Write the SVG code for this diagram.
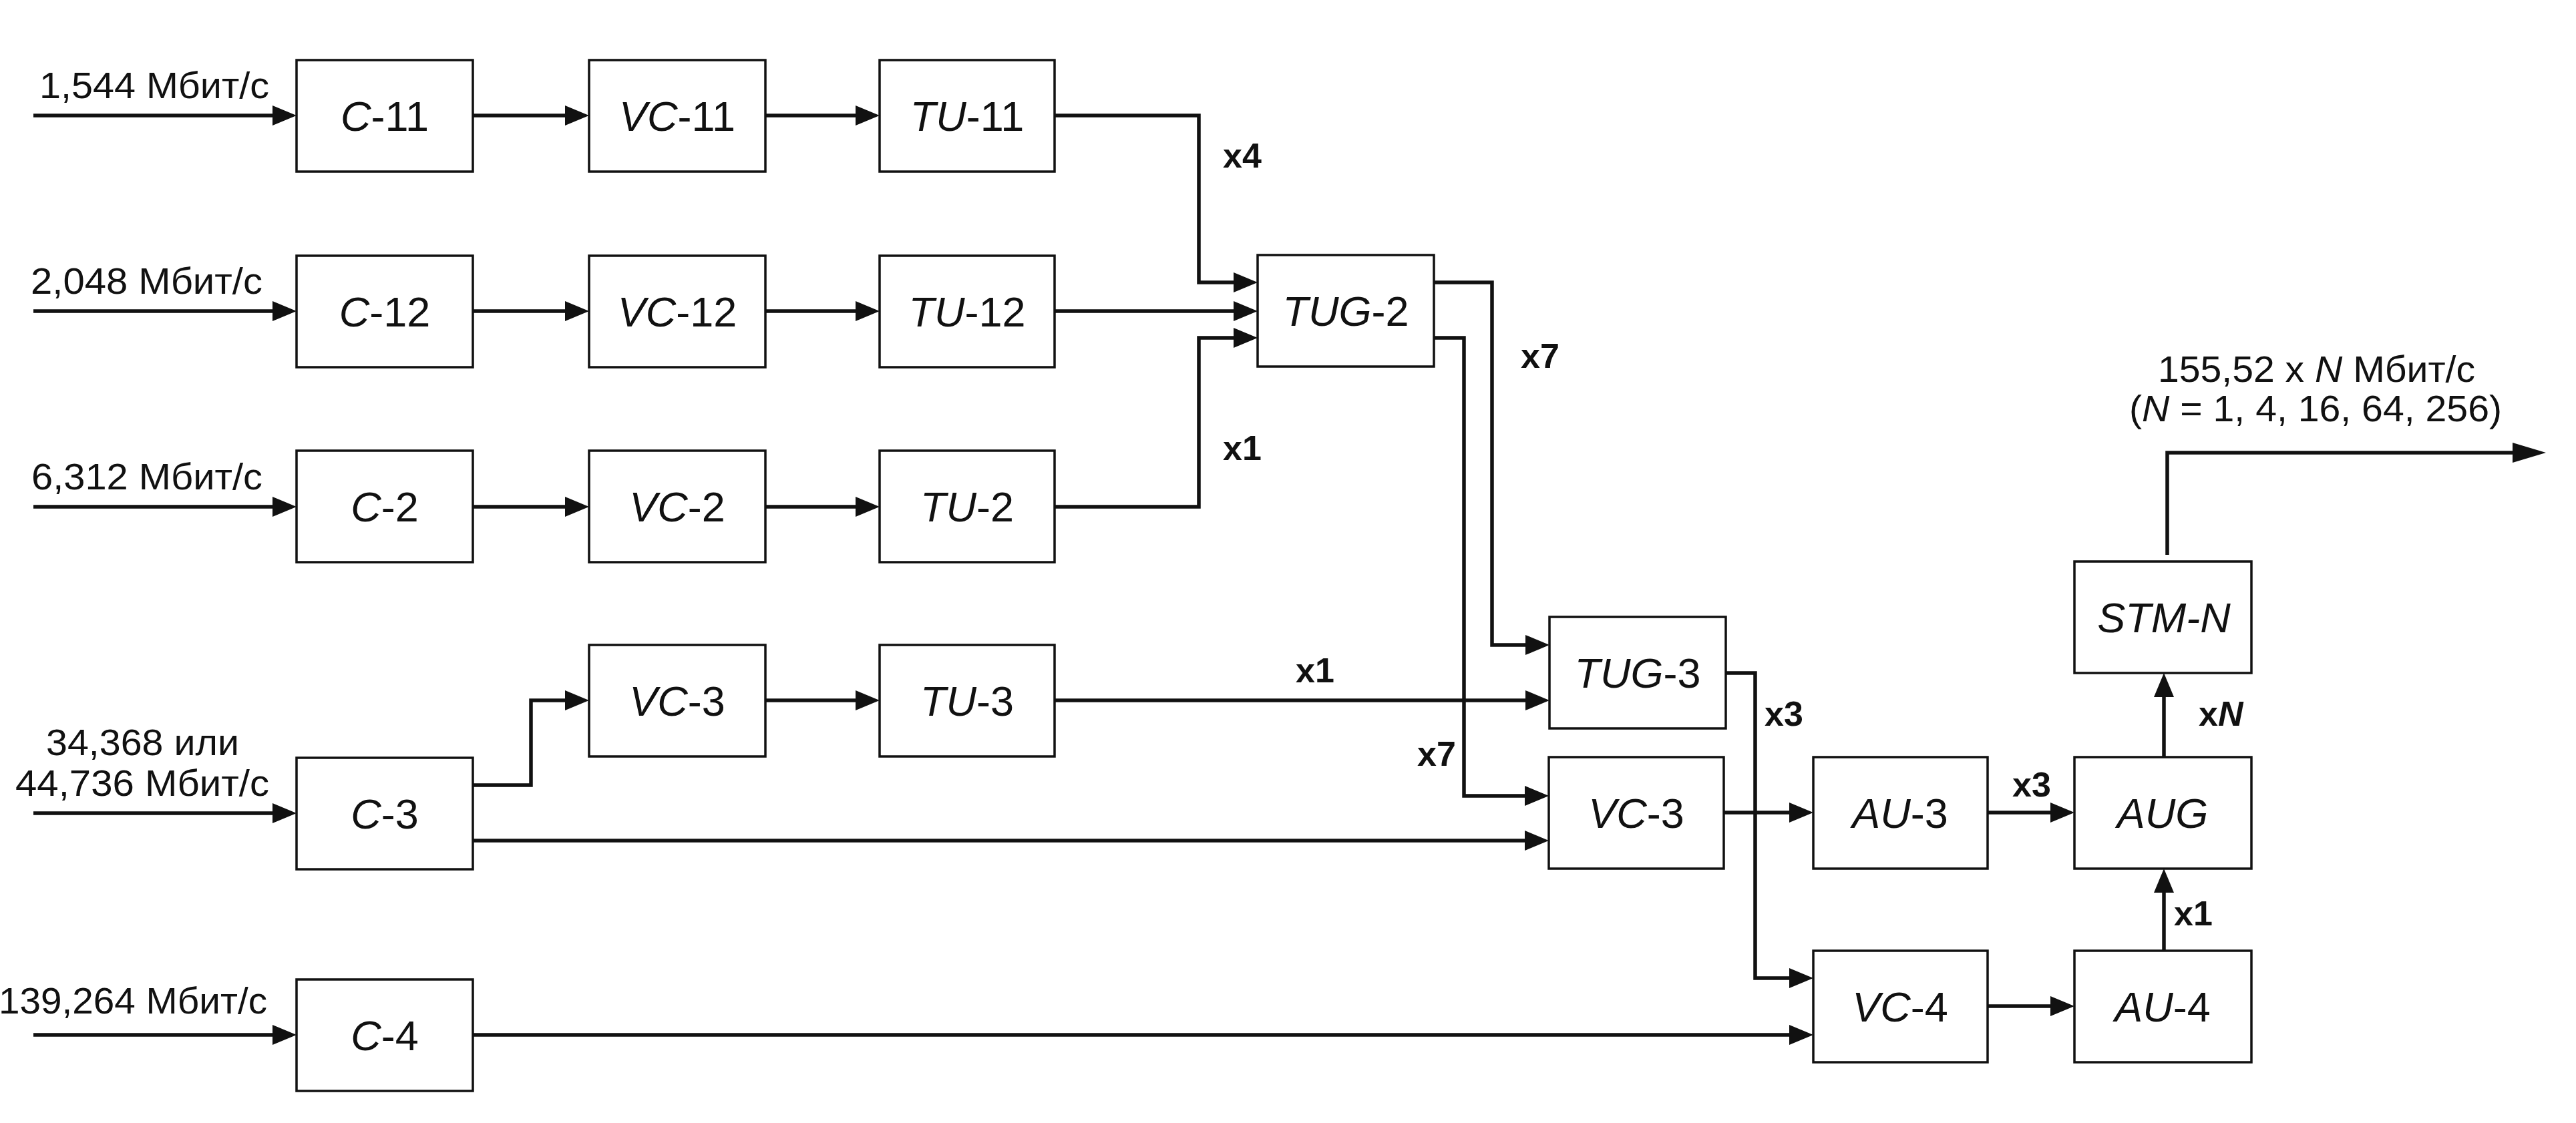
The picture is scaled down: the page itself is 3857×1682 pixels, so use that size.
<svg xmlns="http://www.w3.org/2000/svg" width="3857" height="1682" viewBox="0 0 3857 1682">
<style>
.box{fill:#fff;stroke:#111;stroke-width:3.5}
.lbl{font-family:"Liberation Sans",Arial,sans-serif;font-size:63px;fill:#111;text-anchor:middle}
.rate{font-family:"Liberation Sans",Arial,sans-serif;font-size:55px;fill:#111}
.mul{font-family:"Liberation Sans",Arial,sans-serif;font-size:52px;font-weight:bold;fill:#111}
.i{font-style:italic}
.conn{fill:none;stroke:#111;stroke-width:5.5;stroke-linejoin:miter}
</style>
<defs>
<marker id="arr" markerUnits="userSpaceOnUse" markerWidth="36" markerHeight="30" refX="26" refY="15" orient="auto">
<path d="M0,0 L36,15 L0,30 z" fill="#111"/>
</marker>
<marker id="arrBig" markerUnits="userSpaceOnUse" markerWidth="50" markerHeight="30" refX="40" refY="15" orient="auto">
<path d="M0,0 L50,15 L0,30 z" fill="#111"/>
</marker>
</defs>
<rect width="3857" height="1682" fill="#fff"/>

<g id="connectors">
<path class="conn" marker-end="url(#arr)" d="M50,173 H434"/>
<path class="conn" marker-end="url(#arr)" d="M708,173 H872"/>
<path class="conn" marker-end="url(#arr)" d="M1146,173 H1307"/>
<path class="conn" marker-end="url(#arr)" d="M1579,173 H1795 V423 H1873"/>
<path class="conn" marker-end="url(#arr)" d="M50,466 H434"/>
<path class="conn" marker-end="url(#arr)" d="M708,466 H872"/>
<path class="conn" marker-end="url(#arr)" d="M1146,466 H1307"/>
<path class="conn" marker-end="url(#arr)" d="M1579,466 H1873"/>
<path class="conn" marker-end="url(#arr)" d="M50,759 H434"/>
<path class="conn" marker-end="url(#arr)" d="M708,759 H872"/>
<path class="conn" marker-end="url(#arr)" d="M1146,759 H1307"/>
<path class="conn" marker-end="url(#arr)" d="M1579,759 H1795 V506 H1873"/>
<path class="conn" marker-end="url(#arr)" d="M2147,423 H2234 V966 H2310"/>
<path class="conn" marker-end="url(#arr)" d="M2147,506 H2192 V1192 H2309"/>
<path class="conn" marker-end="url(#arr)" d="M708,1176 H795 V1049 H872"/>
<path class="conn" marker-end="url(#arr)" d="M1146,1049 H1307"/>
<path class="conn" marker-end="url(#arr)" d="M1579,1049 H2310"/>
<path class="conn" marker-end="url(#arr)" d="M50,1218 H434"/>
<path class="conn" marker-end="url(#arr)" d="M708,1259 H2309"/>
<path class="conn" marker-end="url(#arr)" d="M2584,1008 H2628 V1465 H2705"/>
<path class="conn" marker-end="url(#arr)" d="M2581,1217 H2705"/>
<path class="conn" marker-end="url(#arr)" d="M2976,1217 H3096"/>
<path class="conn" marker-end="url(#arr)" d="M3240,1134 V1018"/>
<path class="conn" marker-end="url(#arr)" d="M3240,1424 V1311"/>
<path class="conn" marker-end="url(#arr)" d="M2976,1507 H3096"/>
<path class="conn" marker-end="url(#arr)" d="M50,1550 H434"/>
<path class="conn" marker-end="url(#arr)" d="M708,1550 H2705"/>
<path class="conn" marker-end="url(#arrBig)" d="M3245,831 V678 H3802"/>
</g>

<g id="n-c11"><rect class="box" x="444" y="90" width="264" height="167"/><text class="lbl" x="576" y="196"><tspan class="i">C</tspan>-11</text></g>
<g id="n-vc11"><rect class="box" x="882" y="90" width="264" height="167"/><text class="lbl" x="1014" y="196"><tspan class="i">VC</tspan>-11</text></g>
<g id="n-tu11"><rect class="box" x="1317" y="90" width="262" height="167"/><text class="lbl" x="1448" y="196"><tspan class="i">TU</tspan>-11</text></g>

<g id="n-c12"><rect class="box" x="444" y="383" width="264" height="167"/><text class="lbl" x="576" y="489"><tspan class="i">C</tspan>-12</text></g>
<g id="n-vc12"><rect class="box" x="882" y="383" width="264" height="167"/><text class="lbl" x="1014" y="489"><tspan class="i">VC</tspan>-12</text></g>
<g id="n-tu12"><rect class="box" x="1317" y="383" width="262" height="167"/><text class="lbl" x="1448" y="489"><tspan class="i">TU</tspan>-12</text></g>
<g id="n-tug2"><rect class="box" x="1883" y="382" width="264" height="167"/><text class="lbl" x="2015" y="488"><tspan class="i">TUG</tspan>-2</text></g>

<g id="n-c2"><rect class="box" x="444" y="675" width="264" height="167"/><text class="lbl" x="576" y="781"><tspan class="i">C</tspan>-2</text></g>
<g id="n-vc2"><rect class="box" x="882" y="675" width="264" height="167"/><text class="lbl" x="1014" y="781"><tspan class="i">VC</tspan>-2</text></g>
<g id="n-tu2"><rect class="box" x="1317" y="675" width="262" height="167"/><text class="lbl" x="1448" y="781"><tspan class="i">TU</tspan>-2</text></g>

<g id="n-vc3a"><rect class="box" x="882" y="966" width="264" height="167"/><text class="lbl" x="1014" y="1072"><tspan class="i">VC</tspan>-3</text></g>
<g id="n-tu3"><rect class="box" x="1317" y="966" width="262" height="167"/><text class="lbl" x="1448" y="1072"><tspan class="i">TU</tspan>-3</text></g>
<g id="n-tug3"><rect class="box" x="2320" y="924" width="264" height="167"/><text class="lbl" x="2452" y="1030"><tspan class="i">TUG</tspan>-3</text></g>

<g id="n-c3"><rect class="box" x="444" y="1135" width="264" height="167"/><text class="lbl" x="576" y="1241"><tspan class="i">C</tspan>-3</text></g>
<g id="n-vc3b"><rect class="box" x="2319" y="1134" width="262" height="167"/><text class="lbl" x="2450" y="1240"><tspan class="i">VC</tspan>-3</text></g>
<g id="n-au3"><rect class="box" x="2715" y="1134" width="261" height="167"/><text class="lbl" x="2845" y="1240"><tspan class="i">AU</tspan>-3</text></g>
<g id="n-aug"><rect class="box" x="3106" y="1134" width="265" height="167"/><text class="lbl i" x="3238" y="1240">AUG</text></g>
<g id="n-stm"><rect class="box" x="3106" y="841" width="265" height="167"/><text class="lbl i" x="3240" y="947" font-size="65">STM-N</text></g>

<g id="n-c4"><rect class="box" x="444" y="1467" width="264" height="167"/><text class="lbl" x="576" y="1573"><tspan class="i">C</tspan>-4</text></g>
<g id="n-vc4"><rect class="box" x="2715" y="1424" width="261" height="167"/><text class="lbl" x="2845" y="1530"><tspan class="i">VC</tspan>-4</text></g>
<g id="n-au4"><rect class="box" x="3106" y="1424" width="265" height="167"/><text class="lbl" x="3238" y="1530"><tspan class="i">AU</tspan>-4</text></g>

<g id="rates">
<text class="rate" x="59" y="147" textLength="344" lengthAdjust="spacingAndGlyphs">1,544 Мбит/с</text>
<text class="rate" x="46" y="440" textLength="347" lengthAdjust="spacingAndGlyphs">2,048 Мбит/с</text>
<text class="rate" x="47" y="733" textLength="346" lengthAdjust="spacingAndGlyphs">6,312 Мбит/с</text>
<text class="rate" x="69" y="1131" textLength="289" lengthAdjust="spacingAndGlyphs">34,368 или</text>
<text class="rate" x="23" y="1192" textLength="380" lengthAdjust="spacingAndGlyphs">44,736 Мбит/с</text>
<text class="rate" x="-2" y="1518" textLength="402" lengthAdjust="spacingAndGlyphs">139,264 Мбит/с</text>
<text class="rate" x="3231" y="572" textLength="475" lengthAdjust="spacingAndGlyphs">155,52 x <tspan class="i">N</tspan> Мбит/с</text>
<text class="rate" x="3188" y="631" textLength="558" lengthAdjust="spacingAndGlyphs">(<tspan class="i">N</tspan> = 1, 4, 16, 64, 256)</text>
</g>

<g id="multipliers">
<text class="mul" x="1831" y="251">x4</text>
<text class="mul" x="1831" y="689">x1</text>
<text class="mul" x="2277" y="551">x7</text>
<text class="mul" x="1940" y="1022">x1</text>
<text class="mul" x="2122" y="1147">x7</text>
<text class="mul" x="2642" y="1087">x3</text>
<text class="mul" x="3013" y="1193">x3</text>
<text class="mul" x="3292" y="1087">x<tspan class="i">N</tspan></text>
<text class="mul" x="3255" y="1386">x1</text>
</g>
</svg>
